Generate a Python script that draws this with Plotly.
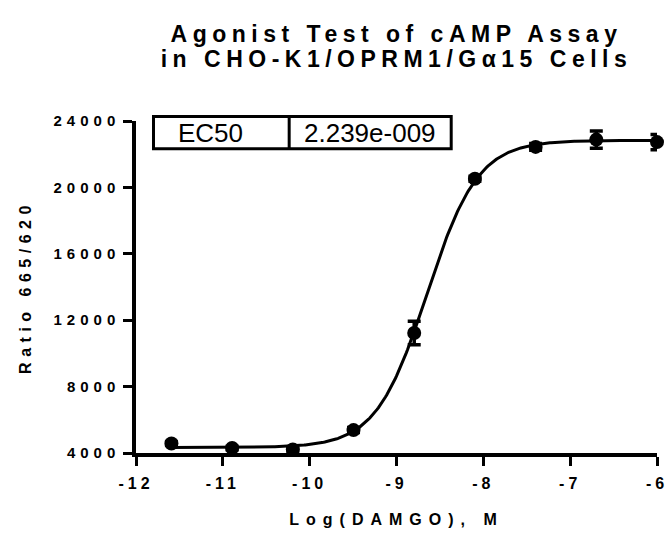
import numpy as np
import plotly.graph_objects as go

# ---- data ----
log_damgo = [-11.592, -10.893, -10.194, -9.495, -8.796, -8.097, -7.398, -6.699, -6.0]
ratio_665_620 = [4570, 4300, 4210, 5380, 11230, 20520, 22440, 22880, 22730]
ratio_sem = [120, 100, 110, 150, 710, 150, 200, 520, 460]

x_ticks = [-12, -11, -10, -9, -8, -7, -6]
y_ticks = [4000, 8000, 12000, 16000, 20000, 24000]

# 4-parameter logistic fit (as reported by the original analysis)
fit_bottom = 4330
fit_top = 22830
fit_ec50 = 2.239e-9
fit_hill = 1.48
ec50_label = "2.239e-009"

FONT = "Liberation Sans, Arial, Helvetica, sans-serif"

xc = np.linspace(min(log_damgo), max(log_damgo), 400)
yc = fit_bottom + (fit_top - fit_bottom) / (1 + 10 ** ((np.log10(fit_ec50) - xc) * fit_hill))

fig = go.Figure()
fig.add_trace(go.Scatter(
    x=xc, y=yc, mode="lines",
    line=dict(color="black", width=3),
    hoverinfo="skip", showlegend=False, cliponaxis=False,
))
fig.add_trace(go.Scatter(
    x=log_damgo, y=ratio_665_620, mode="markers",
    marker=dict(color="black", size=14, symbol="circle"),
    error_y=dict(type="data", array=ratio_sem, visible=True,
                 color="black", thickness=3.5, width=6.5),
    showlegend=False, cliponaxis=False,
))

# EC50 table box
L, D, R = 0.0336, 0.294, 0.605
B, T = 0.9163, 1.0139
line = dict(color="black", width=3)
fig.add_shape(type="rect", xref="paper", yref="paper", x0=L, x1=R, y0=B, y1=T,
              line=line, fillcolor="white", layer="above")
fig.add_shape(type="line", xref="paper", yref="paper", x0=D, x1=D, y0=B, y1=T,
              line=line, layer="above")
fig.add_annotation(xref="paper", yref="paper", x=0.143, y=(B + T) / 2, text="EC50",
                   showarrow=False, font=dict(family=FONT, size=26, color="black"),
                   xanchor="center", yanchor="middle")
fig.add_annotation(xref="paper", yref="paper", x=(D + R) / 2, y=(B + T) / 2, text=ec50_label,
                   showarrow=False, font=dict(family=FONT, size=26, color="black"),
                   xanchor="center", yanchor="middle")

axis_common = dict(
    showline=True, linecolor="black", linewidth=3.5,
    ticks="outside", ticklen=9, tickwidth=3, tickcolor="black",
    showgrid=False, zeroline=False, mirror=False, automargin=False,
)

fig.update_layout(
    width=669, height=533,
    margin=dict(l=135.5, r=12, t=121, b=80),
    paper_bgcolor="white", plot_bgcolor="white",
    font=dict(family=FONT, color="black"),
    title=dict(
        text="Agonist Test of cAMP Assay<br>in CHO-K1/OPRM1/Gα15 Cells",
        x=0.5, xref="paper", xanchor="center",
        y=1, yref="container", yanchor="top", pad=dict(t=42),
        font=dict(family=FONT, size=23, color="black", weight="bold"),
    ),
    xaxis=dict(
        range=[-12, -6], tickvals=x_ticks, ticktext=[str(v) for v in x_ticks],
        tickfont=dict(family=FONT, size=16, color="black", weight="bold"),
        title=dict(text="Log(DAMGO), M", standoff=24,
                   font=dict(family=FONT, size=16, color="black", weight="bold")),
        ticklabelstandoff=4,
        **axis_common,
    ),
    yaxis=dict(
        range=[4000, 24000], tickvals=y_ticks, ticktext=[str(v) for v in y_ticks],
        tickfont=dict(family=FONT, size=15, color="black", weight="bold"),
        title=dict(text="Ratio 665/620", standoff=44,
                   font=dict(family=FONT, size=16, color="black", weight="bold")),
        ticklabelstandoff=0,
        **axis_common,
    ),
)

post = """
document.body.style.margin = '0';
document.body.style.padding = '0';
var gd = document.getElementById('{plot_id}');
function applySpacing(){
  var set = function(sel, v){ gd.querySelectorAll(sel).forEach(function(t){ t.style.letterSpacing = v; }); };
  set('text.gtitle', '5.5px');
  set('.xtick text', '4px');
  set('.ytick text', '5px');
  set('text.xtitle', '7px');
  set('text.ytitle', '5.5px');
  gd.querySelectorAll('text.gtitle tspan.line').forEach(function(ts){
    if (!ts.dataset.origDy) { ts.dataset.origDy = ts.getAttribute('dy') || '0em'; }
    var v = parseFloat(ts.dataset.origDy);
    if (!isNaN(v)) { ts.setAttribute('dy', (v * 0.82) + 'em'); }
  });
}
applySpacing();
if (gd.on) { gd.on('plotly_afterplot', applySpacing); }
setTimeout(applySpacing, 50);
"""

fig.write_html("out.html", post_script=post, config={"displayModeBar": False})
